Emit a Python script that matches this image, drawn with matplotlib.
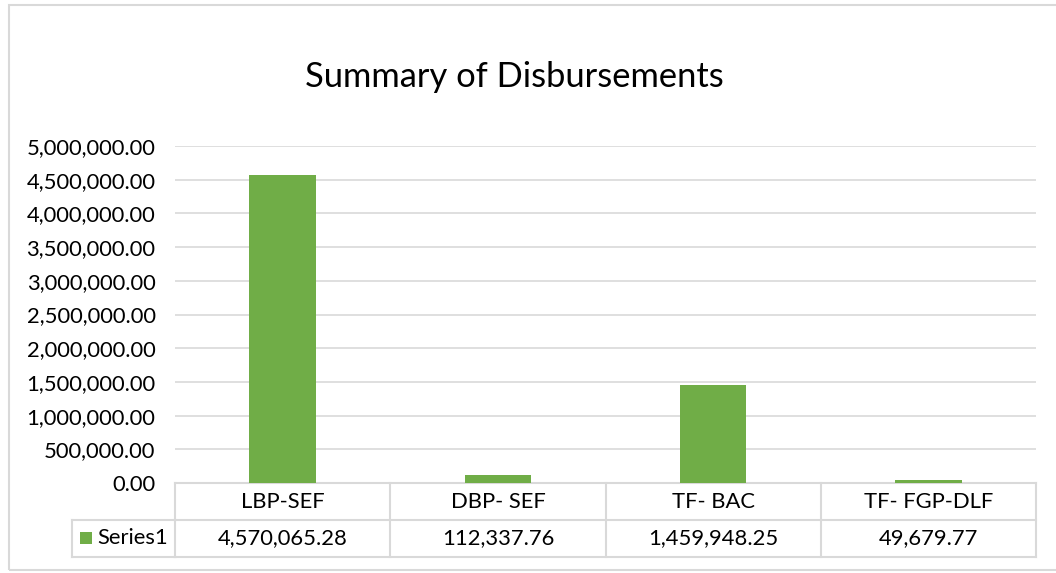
import matplotlib
matplotlib.use("Agg")
import matplotlib.pyplot as plt
from matplotlib.ticker import FuncFormatter
from matplotlib.transforms import blended_transform_factory
from matplotlib.patches import Rectangle

categories = ["LBP-SEF", "DBP- SEF", "TF- BAC", "TF- FGP-DLF"]
series_name = "Series1"
values = [4570065.28, 112337.76, 1459948.25, 49679.77]
yticks = [0, 500000, 1000000, 1500000, 2000000, 2500000, 3000000, 3500000, 4000000, 4500000, 5000000]
title = "Summary of Disbursements"

W, H = 1056, 573
fig = plt.figure(figsize=(W / 100, H / 100), dpi=100)
plt.rcParams['font.family'] = ['Lato', 'DejaVu Sans']

green = "#70AD47"
grid = "#D9D9D9"
txt = "#000000"
fs = 15.8

def fx(px):
    return px / W

def fy(py):
    return 1 - py / H

# outer chart border
fig.patches.append(Rectangle((fx(9), fy(570)), fx(1060) - fx(9), fy(5) - fy(570),
                             transform=fig.transFigure, fill=False, edgecolor=grid, lw=1.5))

left, right, top, bottom = 175, 1036, 146, 483
ax = fig.add_axes([fx(left), fy(bottom), fx(right) - fx(left), fy(top) - fy(bottom)])
x = list(range(len(categories)))
ax.bar(x, values, width=0.31, color=green, zorder=3)
ax.set_xlim(-0.5, len(categories) - 0.5)
ax.set_ylim(0, 5000000)
ax.set_yticks(yticks)
ax.yaxis.set_major_formatter(FuncFormatter(lambda v, p: f"{v:,.2f}"))
ax.tick_params(axis='y', length=0, labelsize=fs, colors=txt, pad=14)
ax.set_xticks([])
ax.grid(axis='y', color=grid, lw=1.2, zorder=0)
for s in ax.spines.values():
    s.set_visible(False)

fig.text(fx(514), fy(77), title, ha='center', va='center', fontsize=24.8, color=txt)

# data table
tr = blended_transform_factory(ax.transData, fig.transFigure)
row1_top, row1_bot, row2_bot = 483, 520, 557
legend_left = 72
lw = 1.5
for yy in (row1_top, row1_bot, row2_bot):
    ax.add_line(plt.Line2D([-0.5, 3.5], [fy(yy)] * 2, transform=tr, color=grid, lw=lw, clip_on=False))
for i in range(len(categories) + 1):
    ax.add_line(plt.Line2D([i - 0.5, i - 0.5], [fy(row1_top), fy(row2_bot)], transform=tr,
                           color=grid, lw=lw, clip_on=False))
# legend cell
fig.add_artist(plt.Line2D([fx(legend_left), fx(left)], [fy(row1_bot)] * 2, color=grid, lw=lw))
fig.add_artist(plt.Line2D([fx(legend_left), fx(left)], [fy(row2_bot)] * 2, color=grid, lw=lw))
fig.add_artist(plt.Line2D([fx(legend_left)] * 2, [fy(row1_bot), fy(row2_bot)], color=grid, lw=lw))
fig.patches.append(Rectangle((fx(80), fy(544)), fx(12), 12 / H, transform=fig.transFigure,
                             facecolor=green, edgecolor='none'))
fig.text(fx(97), fy(538.5), series_name, ha='left', va='center', fontsize=fs, color=txt)

for i, (c, v) in enumerate(zip(categories, values)):
    ax.text(i, fy((row1_top + row1_bot) / 2), c, transform=tr, ha='center', va='center',
            fontsize=fs, color=txt)
    ax.text(i, fy((row1_bot + row2_bot) / 2), f"{v:,.2f}", transform=tr, ha='center', va='center',
            fontsize=fs, color=txt)

fig.savefig("out.png", dpi=100, facecolor='white')
